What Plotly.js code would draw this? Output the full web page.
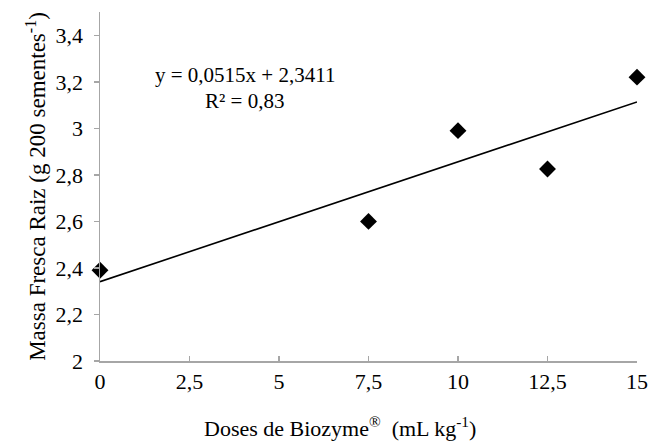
<!DOCTYPE html>
<html>
<head>
<meta charset="utf-8">
<script src="https://cdn.plot.ly/plotly-3.0.1.min.js"></script>
<style>html,body{margin:0;padding:0;background:#fff;}#chart{width:651px;height:441px;}</style>
</head>
<body>
<div id="chart"></div>
<script>
var doses = [0, 7.5, 10, 12.5, 15];
var massa = [2.39, 2.60, 2.99, 2.825, 3.22];
var slope = 0.0515;
var intercept = 2.3411;
var fitX = [0, 15];
var fitY = fitX.map(function(x){ return slope * x + intercept; });
var xTicks = [0, 2.5, 5, 7.5, 10, 12.5, 15];
var xTickText = ['0', '2,5', '5', '7,5', '10', '12,5', '15'];
var yTicks = [2, 2.2, 2.4, 2.6, 2.8, 3, 3.2, 3.4];
var yTickText = ['2', '2,2', '2,4', '2,6', '2,8', '3', '3,2', '3,4'];

var font = "'Liberation Serif', 'Times New Roman', serif";
var data = [
  {x: fitX, y: fitY, mode: 'lines', line: {color: '#000', width: 1.6}, hoverinfo: 'skip', cliponaxis: false},
  {x: doses, y: massa, mode: 'markers', marker: {symbol: 'diamond', size: 13, color: '#000'}, cliponaxis: false}
];
var layout = {
  width: 651, height: 441,
  margin: {l: 100, r: 14, t: 12, b: 80},
  paper_bgcolor: '#fff', plot_bgcolor: '#fff',
  showlegend: false,
  font: {family: font, size: 22, color: '#000'},
  xaxis: {
    range: [0, 15], tickvals: xTicks, ticktext: xTickText,
    showgrid: false, zeroline: false, showline: true, linecolor: '#a6a6a6', linewidth: 1.5,
    ticks: 'inside', ticklen: 5, tickcolor: '#a6a6a6', tickwidth: 1.5,
    tickfont: {family: font, size: 22}
  },
  yaxis: {
    range: [2, 3.5], tickvals: yTicks, ticktext: yTickText,
    showgrid: false, zeroline: false, showline: true, linecolor: '#a6a6a6', linewidth: 1.5,
    ticks: 'outside', ticklen: 5, tickcolor: '#a6a6a6', tickwidth: 1.5,
    ticklabelstandoff: 6,
    tickfont: {family: font, size: 22},
    title: {text: 'Massa Fresca Raiz (g 200 sementes<sup>-1</sup>)', font: {family: font, size: 23}, standoff: 3}
  },
  annotations: [
    {xref: 'paper', yref: 'paper', x: 0.27, y: 0.82, xanchor: 'center', yanchor: 'middle', showarrow: false,
     text: 'y = 0,0515x + 2,3411', font: {family: font, size: 21}},
    {xref: 'paper', yref: 'paper', x: 0.27, y: 0.746, xanchor: 'center', yanchor: 'middle', showarrow: false,
     text: 'R² = 0,83', font: {family: font, size: 21}},
    {xref: 'paper', yref: 'paper', x: 0.447, y: -0.19, xanchor: 'center', yanchor: 'middle', showarrow: false,
     text: 'Doses de Biozyme<sup>®</sup>  (mL kg<sup>-1</sup>)', font: {family: font, size: 22}}
  ]
};
Plotly.newPlot('chart', data, layout, {displayModeBar: false, staticPlot: true});
</script>
</body>
</html>
